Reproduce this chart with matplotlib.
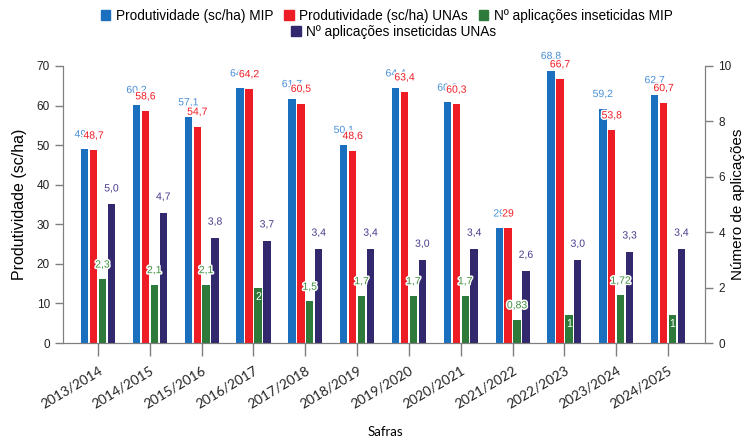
import matplotlib.pyplot as plt
import matplotlib.patheffects as pe
from matplotlib.patches import Patch
import numpy as np

plt.rcParams['font.family'] = ['Liberation Sans', 'DejaVu Sans']

safras = ['2013/2014', '2014/2015', '2015/2016', '2016/2017', '2017/2018', '2018/2019',
          '2019/2020', '2020/2021', '2021/2022', '2022/2023', '2023/2024', '2024/2025']
prod_mip = [49.0, 60.2, 57.1, 64.4, 61.7, 50.1, 64.4, 60.8, 29, 68.8, 59.2, 62.7]
prod_unas = [48.7, 58.6, 54.7, 64.2, 60.5, 48.6, 63.4, 60.3, 29, 66.7, 53.8, 60.7]
apl_mip = [2.3, 2.1, 2.1, 2, 1.5, 1.7, 1.7, 1.7, 0.83, 1, 1.72, 1]
apl_unas = [5.0, 4.7, 3.8, 3.7, 3.4, 3.4, 3.0, 3.4, 2.6, 3.0, 3.3, 3.4]

c_blue = '#1a6fbf'
c_red = '#ee1c25'
c_green = '#2e7a3a'
c_purple = '#31286e'
grey = '#7f7f7f'


def fmt(v, dec=1):
    if float(v).is_integer() and dec == 0:
        return str(int(v))
    return f'{v:.{dec}f}'.replace('.', ',')


fig = plt.figure(figsize=(7.52, 4.45), dpi=100)
ax = fig.add_axes([0.0838, 0.2292, 0.8537, 0.6225])
ax2 = ax.twinx()

x = np.arange(len(safras))
step = 0.172
w = 0.142
halo = [pe.withStroke(linewidth=2.2, foreground='white')]

b1 = ax.bar(x - 1.5 * step, prod_mip, w, color=c_blue)
b2 = ax.bar(x - 0.5 * step, prod_unas, w, color=c_red)
b3 = ax2.bar(x + 0.5 * step, apl_mip, w, color=c_green)
b4 = ax2.bar(x + 1.5 * step, apl_unas, w, color=c_purple)

lab_kw = dict(textcoords='offset points', ha='center', va='bottom', fontsize=7.5,
              path_effects=halo)
for xi, v in zip(x, prod_mip):
    t = fmt(v, 0) if float(v).is_integer() and v < 30 else fmt(v)
    ax.annotate(t, (xi - 1.5 * step, v), xytext=(0, 7), color='#4a8fd6', **lab_kw)
for xi, v in zip(x, prod_unas):
    t = fmt(v, 0) if float(v).is_integer() and v < 30 else fmt(v)
    ax.annotate(t, (xi - 0.5 * step, v), xytext=(0, 7), color=c_red, **lab_kw)
for xi, v in zip(x, apl_mip):
    if float(v).is_integer():
        ax2.annotate(str(int(v)), (xi + 0.5 * step, v), xytext=(0, -3),
                     textcoords='offset points', ha='center', va='top',
                     fontsize=7.5, color='white')
    else:
        t = fmt(v, 2) if round(v, 1) != v else fmt(v)
        ax2.annotate(t, (xi + 0.5 * step, v), xytext=(0, 7), color='#3e8f3e', **lab_kw)
for xi, v in zip(x, apl_unas):
    ax2.annotate(fmt(v), (xi + 1.5 * step, v), xytext=(0, 8), color='#463c8c', **lab_kw)

ax.set_xlim(-0.676, 11.714)
ax.set_ylim(0, 70)
ax2.set_ylim(0, 10)
ax.set_yticks(range(0, 71, 10))
ax2.set_yticks(range(0, 11, 2))

ax.set_xticks(x)
ax.set_xticklabels(safras, rotation=31, ha='right', rotation_mode='anchor',
                   family=['Lato', 'DejaVu Sans'], fontsize=9.8)
fig.text(0.512, 1 - 432 / 445, 'Safras', family=['Lato', 'DejaVu Sans'],
         fontsize=9.5, ha='center', va='center')
ax.set_ylabel('Produtividade (sc/ha)', fontsize=11.5, labelpad=7)
ax2.set_ylabel('Número de aplicações', fontsize=11, labelpad=0)

for a in (ax, ax2):
    a.spines['top'].set_visible(False)
    for s in ('left', 'right', 'bottom'):
        a.spines[s].set_color(grey)
    a.tick_params(colors=grey, labelcolor='#222222', labelsize=8.5, length=6, width=1)
ax.tick_params(axis='x', labelsize=9.8, length=9, pad=6)

leg_kw = dict(frameon=False, fontsize=9.8, handlelength=0.7, handleheight=0.7,
              handletextpad=0.4, columnspacing=0.8, borderpad=0, borderaxespad=0)
h = [Patch(color=c) for c in (c_blue, c_red, c_green, c_purple)]
names = ['Produtividade (sc/ha) MIP', 'Produtividade (sc/ha) UNAs',
         'Nº aplicações inseticidas MIP', 'Nº aplicações inseticidas UNAs']
fig.legend(h[:3], names[:3], loc='center', ncol=3,
           bbox_to_anchor=(0.514, 1 - 16 / 445), **leg_kw)
fig.legend(h[3:], names[3:], loc='center left',
           bbox_to_anchor=(291 / 752, 1 - 32 / 445), **leg_kw)

fig.savefig('out.png', dpi=100)
